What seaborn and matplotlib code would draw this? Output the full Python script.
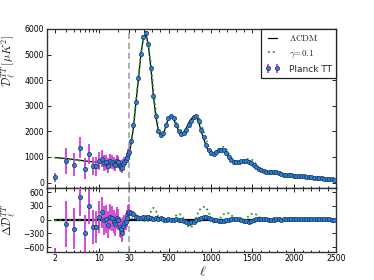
import numpy as np
import matplotlib
matplotlib.use("Agg")
import matplotlib.pyplot as plt
import seaborn as sns
from matplotlib.ticker import FixedLocator, FuncFormatter, NullFormatter

# ---------------- data ----------------
ell_lo = np.arange(2, 30)
lcdm_lo = [980, 940, 900, 870, 845, 825, 808, 795, 785, 778, 772, 770, 770, 772,
           775, 780, 786, 794, 803, 814, 827, 842, 860, 880, 905, 935, 970, 1010]
res_lo = [-780, -90, -200, 500, -300, 290, -160, -160, 50, 160, -10, 20, -110, 60,
          30, -40, -100, 40, 0, -160, -200, -280, -130, -80, -40, 30, 150, 170]
err_lo = [170, 500, 450, 420, 400, 390, 370, 360, 350, 340, 320, 300, 290, 280,
          270, 260, 250, 240, 230, 220, 210, 200, 195, 190, 185, 180, 175, 170]
gres_lo = [-15, -15, -15, -15, -15, -15, -15, -15, -15, -15, -15, -15, -15, -15,
           -15, -15, -15, -15, -15, -15, -15, -15, -15, -15, -15, -10, -5, 0]

ell_hi = np.arange(47, 2478, 30)
lcdm_hi = [1480, 2130, 3100, 4040, 5000, 5650, 5820, 5350, 4450, 3350,
           2550, 1990, 1820, 1900, 2230, 2520, 2630, 2510, 2250, 2030,
           1910, 1960, 2110, 2320, 2480, 2590, 2600, 2380, 2010, 1720,
           1420, 1220, 1120, 1130, 1200, 1280, 1310, 1280, 1170, 1000,
           870, 800, 775, 790, 830, 870, 875, 855, 790, 700,
           610, 530, 470, 430, 420, 425, 425, 415, 390, 360,
           335, 310, 290, 280, 272, 268, 262, 255, 245, 235,
           225, 210, 195, 178, 165, 158, 154, 151, 148, 140,
           125, 110]
res_hi = [150, 120, 60, 40, 30, 50, 40, 60, 30, 20,
          40, 10, 30, 20, 0, 10, -10, 0, 10, -10,
          0, -20, -50, -70, -60, -40, -10, 20, 40, 50,
          50, 40, 20, 0, -10, -20, -25, -20, -10, 0,
          10, 20, 20, 15, 0, -20, -35, -40, -30, -10,
          10, 20, 25, 20, 10, 0, -5, 0, 5, 5,
          0, 5, 10, 10, 10, 5, 10, 10, 10, 5,
          5, 10, 10, 5, 5, 10, 10, 5, 5, 5,
          0, -5]
err_hi = [70, 60, 55, 55, 55, 55, 55, 50, 50, 45,
          40, 40, 35, 35, 35, 35, 35, 35, 30, 30,
          30, 30, 30, 30, 30, 30, 30, 30, 25, 25,
          25, 25, 25, 25, 25, 25, 25, 25, 25, 25,
          20, 20, 20, 20, 20, 20, 20, 20, 20, 20,
          20, 20, 20, 20, 20, 20, 20, 20, 20, 20,
          20, 20, 20, 20, 20, 20, 20, 20, 20, 20,
          20, 20, 20, 20, 20, 20, 20, 20, 25, 25,
          25, 30]
gres_hi = [20, 30, 40, 60, 60, 0, -60, -20, 180, 260,
           200, 60, -40, -60, -40, -40, -20, 30, 90, 130,
           110, 30, -80, -160, -170, -100, 40, 180, 260, 280,
           270, 170, 20, -60, -70, -10, 60, 120, 150, 140,
           100, 50, 20, -20, -40, -20, 30, 80, 120, 140,
           110, 60, 30, 20, 10, 20, 30, 40, 40, 30,
           20, 10, 10, 20, 30, 30, 20, 10, 10, 20,
           20, 20, 10, 10, 20, 20, 10, 10, 10, 10,
           10, 10]

x_major = [2, 10, 30, 500, 1000, 1500, 2000, 2500]
x_minor = [3, 4, 5, 6, 7, 8, 9, 20] + [v for v in range(100, 2500, 100) if v % 500]
top_yticks = [0, 1000, 2000, 3000, 4000, 5000, 6000]
bot_yticks = [-600, -300, 0, 300, 600]

# ---------------- assemble ----------------
ell = np.concatenate([ell_lo, ell_hi])
lcdm = np.concatenate([lcdm_lo, lcdm_hi]).astype(float)
res = np.concatenate([res_lo, res_hi]).astype(float)
err = np.concatenate([err_lo, err_hi]).astype(float)
gres = np.concatenate([gres_lo, gres_hi]).astype(float)
data = lcdm + res
gamma = lcdm + gres

# ---------------- style ----------------
sns.set_style("ticks")
plt.rcParams["font.family"] = ["DejaVu Sans"]
plt.rcParams["mathtext.fontset"] = "cm"

BLUE = "#2a7fd6"
EDGE = "#15304f"
MAG = "#d23fd8"
GREEN = "#1fa01f"


def fwd(x):
    x = np.asarray(x, dtype=float)
    xl = 63.5 * np.log10(np.clip(x, 1e-3, None) / 30.0)
    return np.where(x < 30, xl, (x - 30.0) * 0.0838)


def inv(y):
    y = np.asarray(y, dtype=float)
    return np.where(y < 0, 30.0 * 10 ** (np.clip(y, -1e3, 0) / 63.5), 30.0 + y / 0.0838)


W, H = 374, 280
fig = plt.figure(figsize=(W / 100, H / 100), dpi=100)
ax1 = fig.add_axes([47 / W, 1 - 187.7 / H, 289 / W, 158.7 / H])
ax2 = fig.add_axes([47 / W, 1 - 251.7 / H, 289 / W, 64 / H])

for ax in (ax1, ax2):
    ax.set_xscale("function", functions=(fwd, inv))
    ax.set_xlim(1.5, 2500)
    ax.xaxis.set_major_locator(FixedLocator(x_major))
    ax.xaxis.set_minor_locator(FixedLocator(x_minor))
    ax.xaxis.set_minor_formatter(NullFormatter())
    ax.tick_params(which="both", direction="in", top=True, right=True,
                   labelsize=5.6, pad=2, width=0.7, colors="#222222",
                   labelcolor="black")
    ax.tick_params(which="major", length=3.2)
    ax.tick_params(which="minor", length=1.8)
    for s in ax.spines.values():
        s.set_linewidth(1.0)
        s.set_color("#333333")
    ax.axvline(30, color="#9a9a9a", ls=(0, (4, 2.5)), lw=1.1, zorder=1)

# top panel
sns.lineplot(x=ell, y=lcdm, ax=ax1, color="black", lw=0.9, label=r"$\Lambda\mathrm{CDM}$",
             zorder=2, sort=False, estimator=None)
sns.lineplot(x=ell, y=gamma, ax=ax1, color=GREEN, lw=1.3, linestyle=":",
             label=r"$\gamma\!=\!0.1$", zorder=2, sort=False, estimator=None)
ax1.errorbar(ell, data, yerr=err, fmt="o", ms=3.1, mfc=BLUE, mec=EDGE, mew=0.45,
             ecolor=MAG, elinewidth=1.3, capsize=0, label="Planck TT", zorder=3)
ax1.set_ylim(-200, 6000)
ax1.yaxis.set_major_locator(FixedLocator(top_yticks))
ax1.xaxis.set_major_formatter(NullFormatter())
ax1.set_xlabel("")
ax1.set_ylabel(r"$\mathcal{D}_\ell^{TT}\,[\mu K^2]$", fontsize=8.5)
ax1.yaxis.set_label_coords(-0.102, 0.8)

leg = ax1.legend(loc="upper right", numpoints=2, fontsize=6.5, frameon=True,
                 fancybox=False, borderaxespad=0, handlelength=1.6,
                 handletextpad=1.0, labelspacing=0.55, borderpad=0.45)
leg.get_frame().set_edgecolor("#222222")
leg.get_frame().set_linewidth(0.9)
leg.get_frame().set_alpha(1)

# bottom panel
sns.lineplot(x=ell, y=np.zeros_like(lcdm), ax=ax2, color="black", lw=1.6, zorder=2,
             sort=False, estimator=None)
sns.lineplot(x=ell, y=gres, ax=ax2, color=GREEN, lw=1.3, linestyle=":", zorder=2,
             sort=False, estimator=None)
ax2.errorbar(ell, res, yerr=err, fmt="o", ms=3.1, mfc=BLUE, mec=EDGE, mew=0.45,
             ecolor=MAG, elinewidth=1.3, capsize=0, zorder=3)
ax2.set_ylim(-700, 700)
ax2.yaxis.set_major_locator(FixedLocator(bot_yticks))
ax2.xaxis.set_major_formatter(FuncFormatter(lambda v, p: f"{v:g}"))
ax2.set_ylabel(r"$\Delta\mathcal{D}_\ell^{TT}$", fontsize=8.5)
ax2.yaxis.set_label_coords(-0.102, 0.5)
ax2.set_xlabel(r"$\ell$", fontsize=10)
ax2.xaxis.set_label_coords(0.54, -0.19)
if ax2.get_legend() is not None:
    ax2.get_legend().remove()

fig.savefig("out.png", dpi=100)
